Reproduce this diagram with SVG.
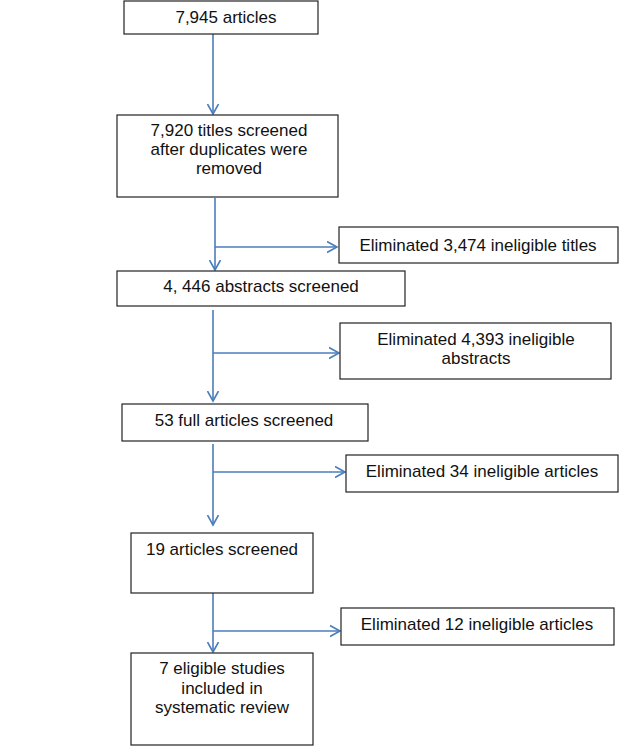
<svg xmlns="http://www.w3.org/2000/svg" width="619" height="746" viewBox="0 0 619 746">
<style>
.box{fill:#fff;stroke:#222;stroke-width:1.2}
.t{font-family:"Liberation Sans",Arial,sans-serif;font-size:17px;fill:#111;text-anchor:middle}
.c{fill:none;stroke:#4a7ebb;stroke-width:1.6}
</style>
<defs>
<marker id="ah" markerUnits="userSpaceOnUse" markerWidth="12" markerHeight="14" refX="10" refY="6" orient="auto" viewBox="0 0 12 12">
<path d="M0,0.5 L10,6 L0,11.5" fill="none" stroke="#4a7ebb" stroke-width="1.6"/>
</marker>
</defs>
<rect width="619" height="746" fill="#fff"/>
<g id="connectors">
<path class="c" d="M213,34 V114" marker-end="url(#ah)"/>
<path class="c" d="M215,198 V270" marker-end="url(#ah)"/>
<path class="c" d="M215,247 H337" marker-end="url(#ah)"/>
<path class="c" d="M213,310 V401" marker-end="url(#ah)"/>
<path class="c" d="M213,353 H339" marker-end="url(#ah)"/>
<path class="c" d="M213,444 V525" marker-end="url(#ah)"/>
<path class="c" d="M213,472 H345" marker-end="url(#ah)"/>
<path class="c" d="M213,593 V652" marker-end="url(#ah)"/>
<path class="c" d="M213,631 H340" marker-end="url(#ah)"/>
</g>
<g id="n1"><rect class="box" x="124" y="1" width="194" height="33"/><text class="t" x="226" y="23">7,945 articles</text></g>
<g id="n2"><rect class="box" x="117" y="115" width="221" height="82"/>
<text class="t" x="229" y="136"><tspan x="229">7,920 titles screened</tspan><tspan x="229" dy="19.2">after duplicates were</tspan><tspan x="229" dy="19.2">removed</tspan></text></g>
<g id="n3"><rect class="box" x="339" y="227" width="279" height="36"/><text class="t" x="478" y="251">Eliminated 3,474 ineligible titles</text></g>
<g id="n4"><rect class="box" x="117" y="271" width="288" height="35"/><text class="t" x="261" y="292">4, 446 abstracts screened</text></g>
<g id="n5"><rect class="box" x="340" y="323" width="271" height="56"/>
<text class="t" x="476" y="345"><tspan x="476">Eliminated 4,393 ineligible</tspan><tspan x="476" dy="19.2">abstracts</tspan></text></g>
<g id="n6"><rect class="box" x="122" y="404" width="246" height="37"/><text class="t" x="244" y="426">53 full articles screened</text></g>
<g id="n7"><rect class="box" x="346" y="455" width="272" height="37"/><text class="t" x="482" y="477">Eliminated 34 ineligible articles</text></g>
<g id="n8"><rect class="box" x="131" y="533" width="182" height="60"/><text class="t" x="222" y="555">19 articles screened</text></g>
<g id="n9"><rect class="box" x="341" y="608" width="273" height="37"/><text class="t" x="477" y="630">Eliminated 12 ineligible articles</text></g>
<g id="n10"><rect class="box" x="131" y="653" width="182" height="92"/>
<text class="t" x="222" y="674"><tspan x="222">7 eligible studies</tspan><tspan x="222" dy="19.5">included in</tspan><tspan x="222" dy="19.5">systematic review</tspan></text></g>
</svg>
